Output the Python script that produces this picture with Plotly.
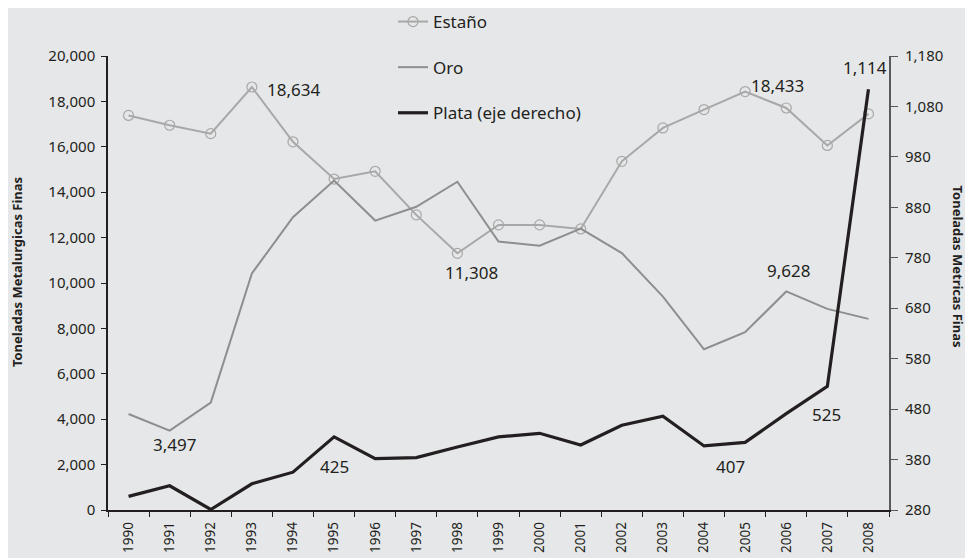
import plotly.graph_objects as go

years = [str(y) for y in range(1990, 2009)]
estano = [17380, 16950, 16580, 18634, 16220, 14580, 14920, 13000, 11308, 12560,
          12560, 12380, 15360, 16830, 17640, 18433, 17710, 16060, 17450]
oro = [4230, 3497, 4730, 10420, 12900, 14510, 12750, 13360, 14460, 11830,
       11640, 12400, 11320, 9400, 7080, 7830, 9628, 8860, 8420]
plata = [307, 328, 281, 332, 355, 425, 382, 384, 405, 425,
         432, 409, 448, 466, 407, 414, 471, 525, 1114]

BG = "#e6e7e9"
FONT = "Noto Sans"

fig = go.Figure()
fig.add_trace(go.Scatter(
    x=years, y=estano, name="Estaño", mode="lines+markers",
    line=dict(color="#a8a8a8", width=2),
    marker=dict(symbol="circle-open", size=10, color="#a8a8a8", line=dict(width=1.2)),
    legendgroup="a"))
fig.add_trace(go.Scatter(
    x=years, y=oro, name="Oro", mode="lines",
    line=dict(color="#8e8e8e", width=2), legendgroup="b"))
fig.add_trace(go.Scatter(
    x=years, y=plata, name="Plata (eje derecho)", mode="lines",
    line=dict(color="#231f20", width=3.2), yaxis="y2", legendgroup="c"))

# data labels: (series, year index, axis, text, xshift, yshift)
labels = [
    (estano, 3, "y", "18,634", 42, -2),
    (estano, 15, "y", "18,433", 32, 6),
    (estano, 8, "y", "11,308", 14, -19),
    (oro, 1, "y", "3,497", 5, -14),
    (oro, 16, "y", "9,628", 2, 21),
    (plata, 5, "y2", "425", 0, -30),
    (plata, 14, "y2", "407", 26, -21),
    (plata, 17, "y2", "525", -1, -28),
    (plata, 18, "y2", "1,114", -3, 22),
]
for series, i, yr, t, dx, dy in labels:
    fig.add_annotation(x=i, y=series[i], xref="x", yref=yr, text=t, showarrow=False,
                       xshift=dx, yshift=dy, font=dict(family=FONT, size=17, color="#231f20"))

fig.add_annotation(text="<b>Toneladas Metalurgicas Finas</b>", xref="paper", yref="paper",
                   x=-0.1165, y=0.524, xanchor="center", yanchor="middle", textangle=-90,
                   showarrow=False, font=dict(family=FONT, size=13, color="#231f20"))
fig.add_annotation(text="<b>Toneladas Metricas Finas</b>", xref="paper", yref="paper",
                   x=1.088, y=0.537, xanchor="center", yanchor="middle", textangle=90,
                   showarrow=False, font=dict(family=FONT, size=13, color="#231f20"))

fig.update_layout(
    width=973, height=558,
    paper_bgcolor=BG, plot_bgcolor=BG,
    margin=dict(l=100, r=92, t=48, b=56, autoexpand=False),
    font=dict(family=FONT, size=15, color="#231f20"),
    showlegend=True,
    legend=dict(x=0.3957, y=1.1145, xref="container", yref="paper", xanchor="left", yanchor="top",
                bgcolor="rgba(0,0,0,0)", font=dict(family=FONT, size=17, color="#231f20"),
                tracegroupgap=20.5, itemwidth=30),
    xaxis=dict(type="category", range=[-0.5, 18.5], showgrid=False, zeroline=False,
               showline=True, linecolor="#231f20", linewidth=1.5,
               ticks="outside", tickson="boundaries", ticklen=5, tickcolor="#231f20",
               tickangle=-90, tickfont=dict(size=13.5), ticklabelstandoff=5),
    yaxis=dict(range=[0, 20000], dtick=2000, tickformat=",", showgrid=False, zeroline=False,
               showline=True, linecolor="#231f20", linewidth=1.5,
               ticks="outside", ticklen=5, tickcolor="#231f20", tickfont=dict(size=15),
               ticklabelstandoff=3),
    yaxis2=dict(range=[280, 1180], tick0=280, dtick=100, tickformat=",", overlaying="y", side="right",
                showgrid=False, zeroline=False, showline=True, linecolor="#595959", linewidth=2,
                ticks="outside", ticklen=7, tickcolor="#595959", tickfont=dict(size=15),
                ticklabelstandoff=4),
)

fig.write_html("out.html")
